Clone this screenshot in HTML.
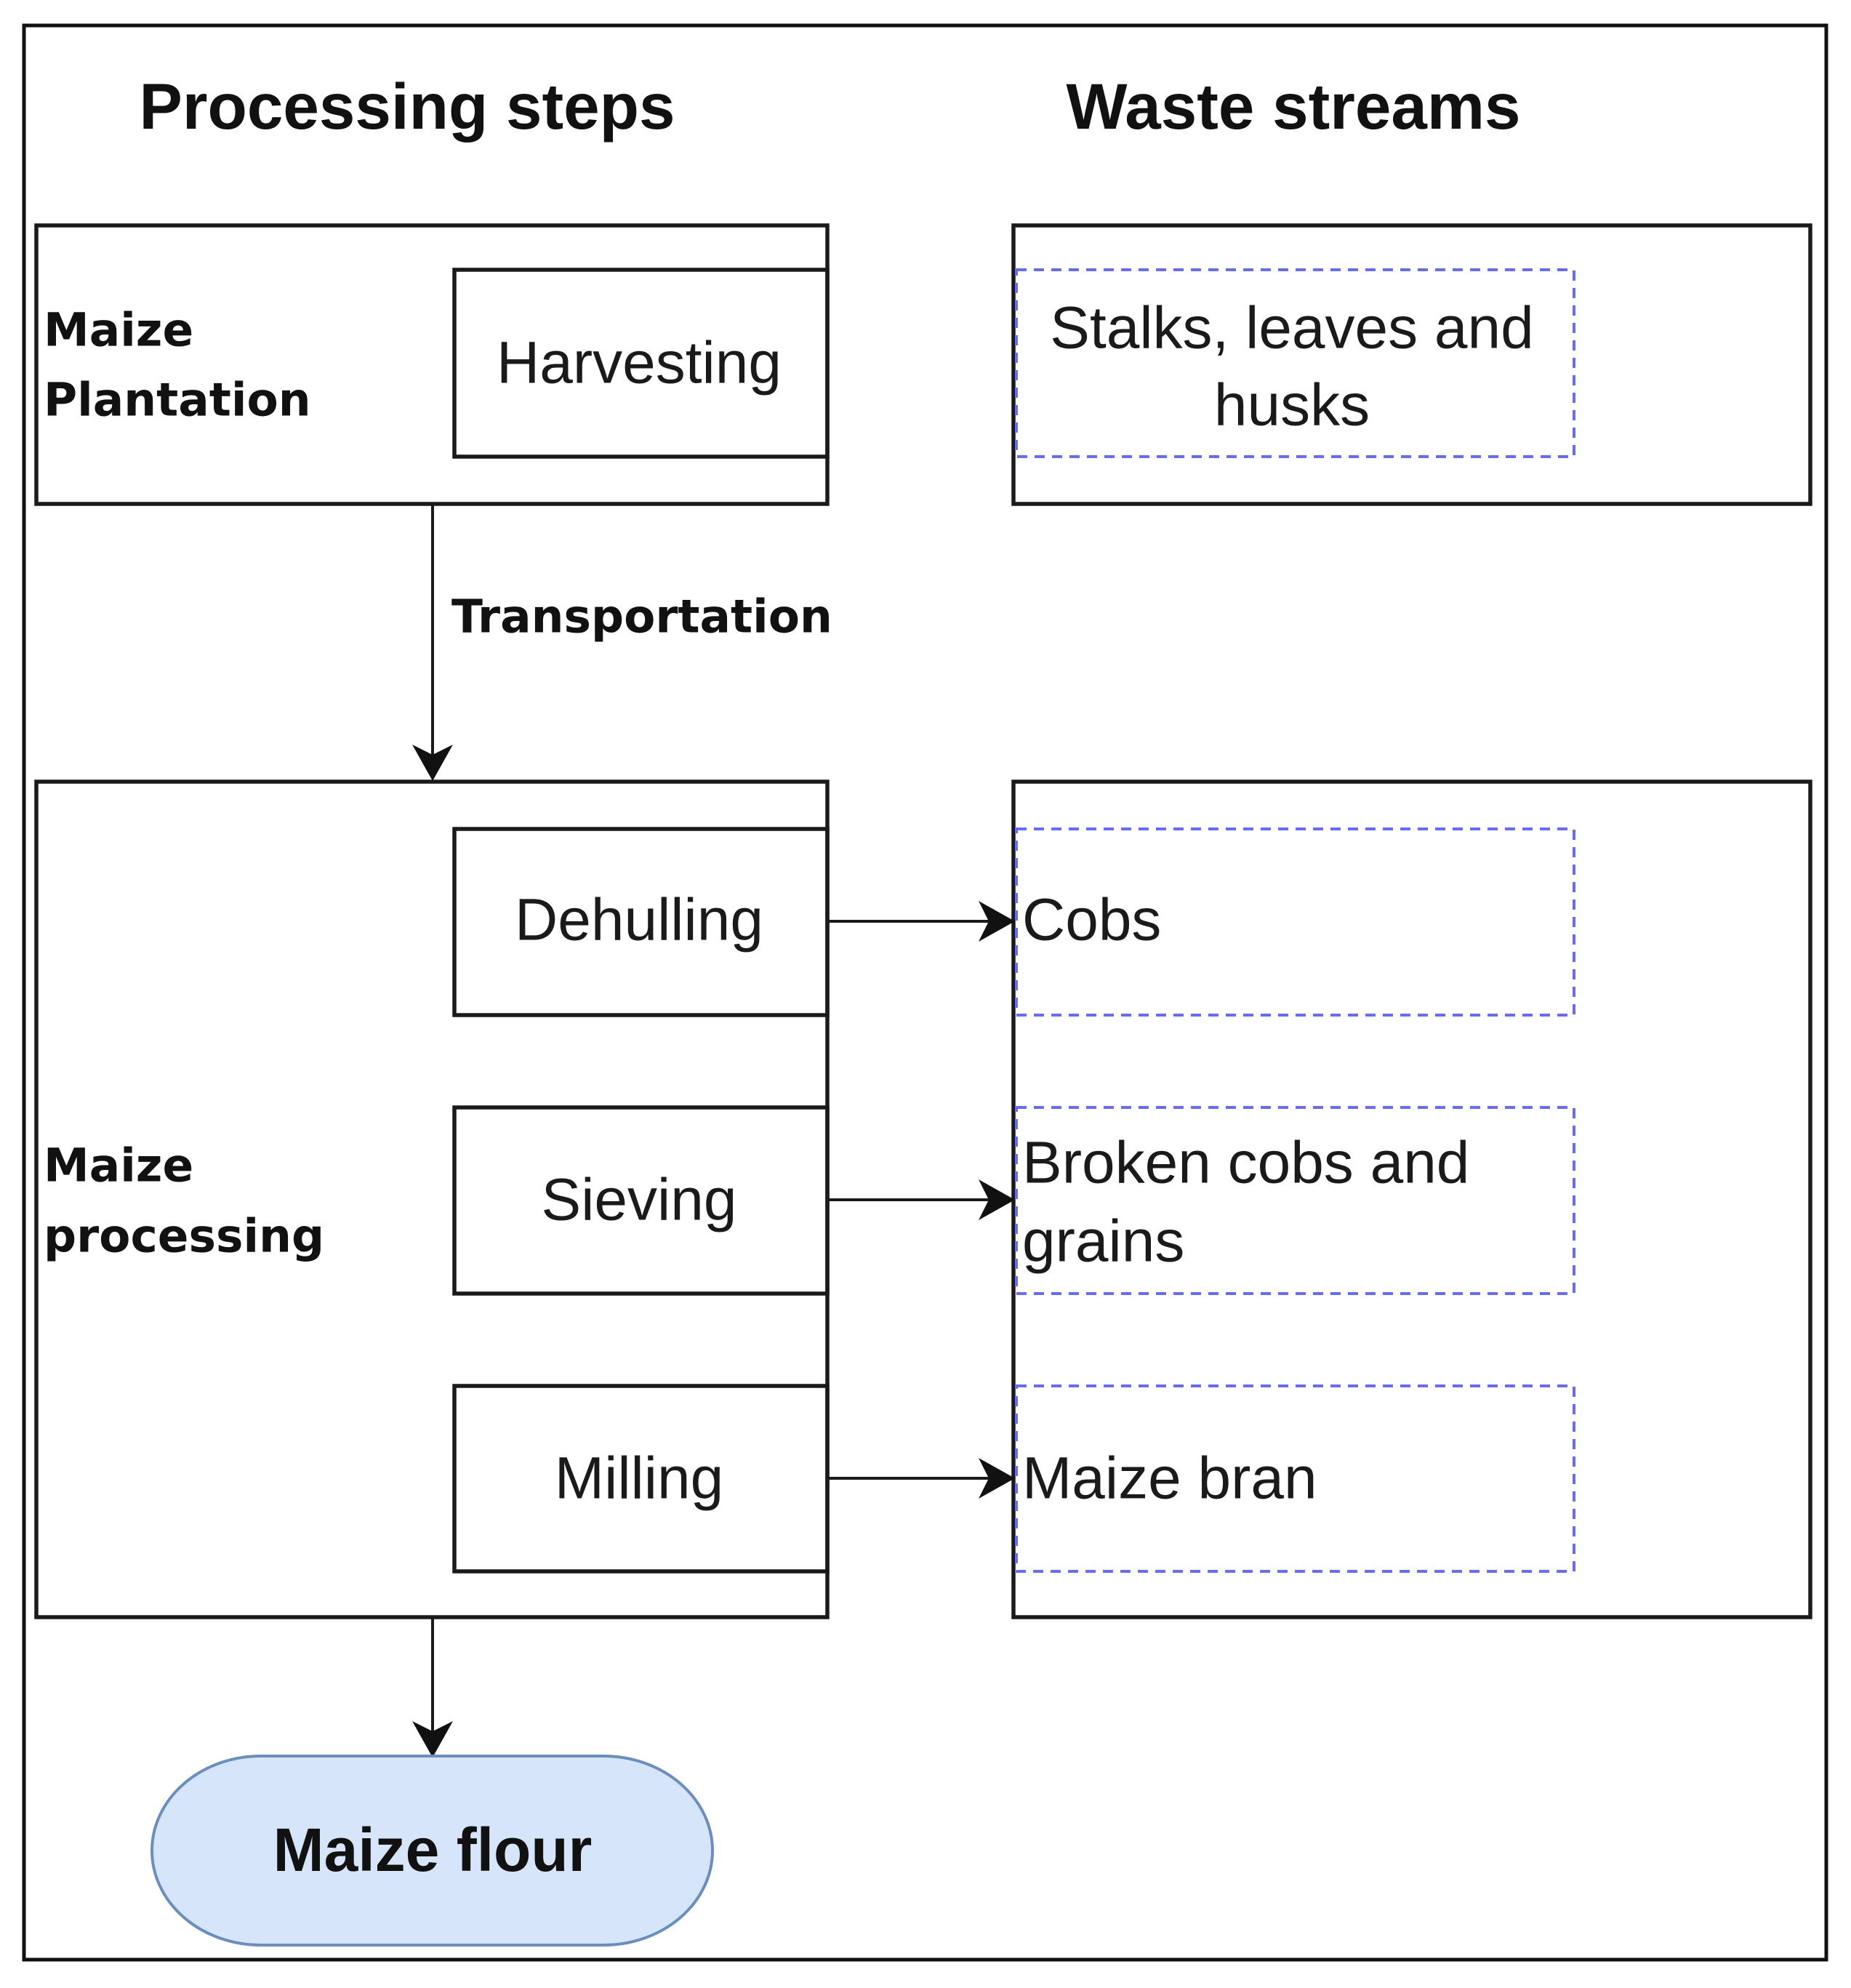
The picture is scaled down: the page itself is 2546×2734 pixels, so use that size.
<!DOCTYPE html>
<html><head><meta charset="utf-8"><style>
html,body{margin:0;padding:0;background:#fff}
svg{display:block}
.h{font-family:"Liberation Sans",sans-serif;font-weight:bold;font-size:89px;fill:#111}
.b{font-family:"DejaVu Sans",sans-serif;font-weight:bold;font-size:63px;fill:#111}
.n{font-family:"Liberation Sans",sans-serif;font-size:82px;fill:#1a1a1a}
</style></head><body>
<svg width="2546" height="2734" viewBox="0 0 2546 2734" xmlns="http://www.w3.org/2000/svg">
<rect x="33" y="35" width="2479" height="2660" fill="none" stroke="#111" stroke-width="5"/>
<text class="h" x="560" y="146" text-anchor="middle" dominant-baseline="central">Processing steps</text>
<text class="h" x="1779" y="146" text-anchor="middle" dominant-baseline="central">Waste streams</text>

<g fill="none" stroke="#1a1a1a" stroke-width="5.5">
<rect x="50" y="310" width="1088" height="383"/>
<rect x="625" y="371" width="513" height="257"/>
<rect x="1394" y="310" width="1096" height="383"/>
<rect x="50" y="1075" width="1088" height="1149"/>
<rect x="625" y="1140" width="513" height="256"/>
<rect x="625" y="1523" width="513" height="256"/>
<rect x="625" y="1906" width="513" height="255"/>
<rect x="1394" y="1075" width="1096" height="1149"/>
</g>
<g fill="none" stroke="#6a6cf0" stroke-width="4" stroke-dasharray="14,10">
<rect x="1398" y="371" width="767" height="257"/>
<rect x="1398" y="1140" width="767" height="256"/>
<rect x="1398" y="1523" width="767" height="256"/>
<rect x="1398" y="1906" width="767" height="255"/>
</g>

<text class="b" x="60" y="454" dominant-baseline="central">Maize</text>
<text class="b" x="60" y="550" dominant-baseline="central">Plantation</text>
<text class="b" x="60" y="1603" dominant-baseline="central">Maize</text>
<text class="b" x="60" y="1700" dominant-baseline="central">processing</text>
<text class="b" x="621" y="848" dominant-baseline="central">Transportation</text>

<text class="n" x="879" y="499" text-anchor="middle" dominant-baseline="central">Harvesting</text>
<text class="n" x="879" y="1265" text-anchor="middle" dominant-baseline="central">Dehulling</text>
<text class="n" x="879" y="1650" text-anchor="middle" dominant-baseline="central">Sieving</text>
<text class="n" x="879" y="2033" text-anchor="middle" dominant-baseline="central">Milling</text>

<text class="n" x="1777" y="451" text-anchor="middle" dominant-baseline="central">Stalks, leaves and</text>
<text class="n" x="1777" y="557" text-anchor="middle" dominant-baseline="central">husks</text>
<text class="n" x="1406" y="1265" dominant-baseline="central">Cobs</text>
<text class="n" x="1406" y="1599" dominant-baseline="central">Broken cobs and</text>
<text class="n" x="1406" y="1707" dominant-baseline="central">grains</text>
<text class="n" x="1406" y="2033" dominant-baseline="central">Maize bran</text>

<g stroke="#1a1a1a" stroke-width="4" fill="none">
<line x1="595" y1="693" x2="595" y2="1050"/>
<line x1="595" y1="2224" x2="595" y2="2392"/>
<line x1="1140" y1="1267" x2="1370" y2="1267"/>
<line x1="1140" y1="1650" x2="1370" y2="1650"/>
<line x1="1140" y1="2033" x2="1370" y2="2033"/>
</g>
<g fill="#111">
<path d="M595 1074 L567 1024 L595 1038 L623 1024 Z"/>
<path d="M595 2417 L567 2367 L595 2381 L623 2367 Z"/>
<path d="M1396 1267 L1346 1239 L1360 1267 L1346 1295 Z"/>
<path d="M1396 1650 L1346 1622 L1360 1650 L1346 1678 Z"/>
<path d="M1396 2033 L1346 2005 L1360 2033 L1346 2061 Z"/>
</g>

<rect x="209" y="2415" width="771" height="260" rx="150" ry="130" fill="#d6e5f9" stroke="#6c8ebf" stroke-width="4"/>
<text x="595" y="2544" text-anchor="middle" dominant-baseline="central" style="font-family:'Liberation Sans',sans-serif;font-weight:bold;font-size:84px;fill:#111">Maize flour</text>
</svg>
</body></html>
